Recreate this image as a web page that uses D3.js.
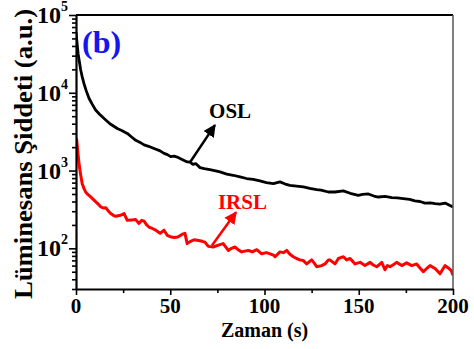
<!DOCTYPE html>
<html>
<head>
<meta charset="utf-8">
<script src="https://cdn.jsdelivr.net/npm/d3@7/dist/d3.min.js"></script>
<style>
  html, body { margin: 0; padding: 0; background: #fff; }
  svg { display: block; }
  text { font-family: "Liberation Serif", "Times New Roman", serif; font-weight: bold; }
</style>
</head>
<body>
<svg id="chart" width="474" height="349"></svg>
<script>
// OSL decay curve: time (s) and luminescence intensity (a.u.)
const oslTime = [0, 0.5, 1.1, 1.8, 2.5, 3.3, 4.2, 5.5, 6.9, 8.5, 10.4, 12.5, 14.9, 18, 21.9, 24.5, 27.2, 29.5, 31.7, 34,
  36.1, 38.5, 41.4, 44.6, 46.7, 48.5, 50.2, 52, 53.7, 56, 59, 60.5, 62, 63.5, 65.8, 68, 71, 73.5, 76.4, 80,
  83.4, 87, 90.5, 94, 97.6, 101, 104.7, 108.2, 111, 113.5, 117, 120.6, 124, 127.7, 130, 133.9, 137.4, 141.8, 145.5, 149.8,
  152, 155.1, 158, 160.4, 164, 167.5, 170.5, 173.6, 177, 179.8, 182.5, 185.1, 188, 190.5, 193, 195.8, 198.4, 200];
const oslValue = [60000, 45000, 32000, 25000, 19600, 16000, 13200, 10500, 8500, 7200, 6000, 5300, 4660, 4000, 3470, 3250, 3000, 2700, 2450, 2300,
  2140, 2050, 1920, 1790, 1660, 1600, 1510, 1530, 1490, 1400, 1290, 1280, 1200, 1230, 1090, 1060, 1030, 1000, 960, 900,
  870, 830, 790, 770, 735, 700, 680, 716, 670, 645, 630, 617, 590, 570, 560, 530, 530, 548, 510, 480,
  495, 500, 470, 457, 465, 450, 445, 436, 425, 407, 400, 382, 385, 376, 370, 382, 355, 340];

// IRSL decay curve
const irslTime = [0, 0.4, 1, 1.6, 2.4, 3.3, 4.2, 5.1, 6.4, 7.8, 9, 10.4, 11.8, 13.1, 14.5, 15.8, 17, 18.4, 19.8, 21,
  22.3, 23.7, 25.5, 27.2, 29.5, 31.7, 33.4, 34.9, 36.1, 37.5, 38.7, 40.5, 42.3, 44.6, 46.7, 48.4, 50, 52, 54, 56.4,
  57.8, 59, 60.5, 62.6, 65, 67, 68.4, 70.2, 72.8, 75.5, 78.1, 80.8, 82.5, 84.3, 86, 87.9, 89.5, 91.4, 93.5, 95.9,
  98.5, 101, 103, 104.7, 105.6, 108.2, 110, 111.8, 113.5, 115.3, 117, 118.8, 120.5, 122.4, 125, 126.5, 127.7, 130.3, 132.1, 133.9,
  134.7, 137.4, 139.2, 140.5, 141.8, 143.6, 145.4, 146.8, 148, 150.7, 153.3, 156, 157.7, 159.5, 161, 162.2, 163.9, 165.2, 166.6, 168.5,
  170.1, 172.8, 175.4, 178.1, 180.7, 182.5, 184.3, 186, 187.8, 190.5, 193.1, 195.8, 197.9, 199, 200];
const irslValue = [2600, 2460, 1700, 1230, 900, 676, 590, 531, 490, 458, 430, 398, 370, 342, 330, 333, 305, 280, 266, 258,
  262, 266, 280, 229, 232, 234, 209, 229, 224, 200, 188, 180, 171, 156, 171, 147, 141, 138, 140, 152,
  156, 115, 122, 129, 126, 123, 120, 106, 104, 110, 115, 94, 100, 104, 96, 90, 92, 94, 90, 96,
  85, 88, 85, 82, 78, 90, 88, 94, 84, 78, 74, 71, 70, 63, 71, 64, 58, 60, 63, 71,
  71, 63, 74, 76, 78, 71, 74, 68, 63, 66, 60, 66, 61, 58, 62, 66, 53, 60, 58, 62,
  66, 60, 65, 60, 63, 56, 50, 55, 60, 55, 47, 60, 55, 52, 45];

// Axis ticks
const xTicks = [0, 50, 100, 150, 200];
const xMinorTicks = [25, 75, 125, 175];
const yTicks = [100, 1000, 10000, 100000];
const yTickExponents = ["2", "3", "4", "5"];

// Annotations: label text, anchor point of the label and arrow (tail -> head) in data units
const annotations = [
  { label: "OSL", color: "#000000", labelAt: [70.6, 4720], from: [60.5, 1280], to: [73.7, 3840] },
  { label: "IRSL", color: "#ff0000", labelAt: [75.3, 316], from: [72.1, 109], to: [84.9, 291] }
];

const margin = { top: 15, right: 21, bottom: 60, left: 76 };
const W = 474, H = 349;
const iw = W - margin.left - margin.right;
const ih = H - margin.top - margin.bottom;

const svg = d3.select("#chart");
const g = svg.append("g").attr("transform", `translate(${margin.left},${margin.top})`);

const x = d3.scaleLinear().domain([0, 200]).range([0, iw]);
const y = d3.scaleLog().domain([30, 100000]).range([ih, 0]);

// minor log ticks 2..9 × 10^k inside the domain
const yMinor = [];
for (let k = 1; k <= 4; k++) for (let m = 2; m <= 9; m++) {
  const v = m * Math.pow(10, k);
  if (v >= 30 && v <= 100000) yMinor.push(v);
}

g.append("defs").append("clipPath").attr("id", "plot-clip")
  .append("rect").attr("x", 0).attr("y", 0).attr("width", iw).attr("height", ih);

// Curves
const line = (ts, vs) => d3.line()
  .x((d, i) => x(ts[i]))
  .y((d, i) => y(vs[i]))
  .curve(d3.curveLinear)(vs);

g.append("path").attr("d", line(oslTime, oslValue))
  .attr("fill", "none").attr("stroke", "#000").attr("stroke-width", 2.8)
  .attr("stroke-linejoin", "round").attr("clip-path", "url(#plot-clip)");
g.append("path").attr("d", line(irslTime, irslValue))
  .attr("fill", "none").attr("stroke", "#ff0000").attr("stroke-width", 3)
  .attr("stroke-linejoin", "round").attr("clip-path", "url(#plot-clip)");

// Frame: top and right borders
g.append("line").attr("x1", 0).attr("x2", iw).attr("y1", 0).attr("y2", 0)
  .attr("stroke", "#000").attr("stroke-width", 2);
g.append("line").attr("x1", iw).attr("x2", iw).attr("y1", 0).attr("y2", ih)
  .attr("stroke", "#555").attr("stroke-width", 1.5);

// X axis
const xAxis = g.append("g").attr("transform", `translate(0,${ih})`)
  .call(d3.axisBottom(x).tickValues(xTicks).tickSize(6).tickSizeOuter(0).tickFormat(""));
g.append("g").attr("transform", `translate(0,${ih})`)
  .call(d3.axisBottom(x).tickValues(xMinorTicks).tickSize(4).tickSizeOuter(0).tickFormat(""))
  .select(".domain").remove();
xAxis.select(".domain").attr("stroke-width", 2.2);

g.selectAll(".xlab").data(xTicks).join("text")
  .attr("x", d => x(d)).attr("y", ih + 24)
  .attr("text-anchor", "middle").attr("font-size", 21).attr("fill", "#000")
  .text(d => d);

// Y axis
const yAxis = g.append("g")
  .call(d3.axisLeft(y).tickValues(yTicks).tickSize(7).tickSizeOuter(0).tickFormat(""));
g.append("g")
  .call(d3.axisLeft(y).tickValues(yMinor).tickSize(4).tickSizeOuter(0).tickFormat(""))
  .select(".domain").remove();
yAxis.select(".domain").attr("stroke-width", 2.2);
g.selectAll(".tick line").attr("stroke-width", 1.6);

const ylab = g.selectAll(".ylab").data(yTicks).join("text")
  .attr("x", -8).attr("y", d => y(d) + 8)
  .attr("text-anchor", "end").attr("font-size", 24).attr("fill", "#000");
ylab.append("tspan").text("10");
ylab.append("tspan").attr("font-size", 14).attr("dy", -12)
  .text((d, i) => yTickExponents[i]);

// Axis titles
svg.append("text")
  .attr("x", margin.left + iw / 2).attr("y", 337)
  .attr("text-anchor", "middle").attr("font-size", 20).attr("fill", "#000")
  .text("Zaman (s)");
svg.append("text")
  .attr("transform", `translate(32,154) rotate(-90)`)
  .attr("text-anchor", "middle").attr("font-size", 25).attr("fill", "#000")
  .attr("textLength", 290).attr("lengthAdjust", "spacingAndGlyphs")
  .text("Lüminesans Şiddeti (a.u.)");

// Panel tag
g.append("text").attr("x", 6).attr("y", 38)
  .attr("font-size", 32).attr("fill", "#1515f0").text("(b)");

// Arrow markers and labels
const defs = svg.append("defs");
annotations.forEach((a, i) => {
  defs.append("marker").attr("id", "arrow" + i)
    .attr("viewBox", "0 0 10 10").attr("refX", 9).attr("refY", 5)
    .attr("markerWidth", 5).attr("markerHeight", 5)
    .attr("markerUnits", "strokeWidth").attr("orient", "auto")
    .append("path").attr("d", "M0,0 L10,5 L0,10 Z").attr("fill", a.color);
  g.append("line")
    .attr("x1", x(a.from[0])).attr("y1", y(a.from[1]))
    .attr("x2", x(a.to[0])).attr("y2", y(a.to[1]))
    .attr("stroke", a.color).attr("stroke-width", 2.5)
    .attr("marker-end", `url(#arrow${i})`);
  g.append("text")
    .attr("x", x(a.labelAt[0])).attr("y", y(a.labelAt[1]))
    .attr("font-size", 21).attr("fill", a.color).text(a.label);
});
</script>
</body>
</html>
